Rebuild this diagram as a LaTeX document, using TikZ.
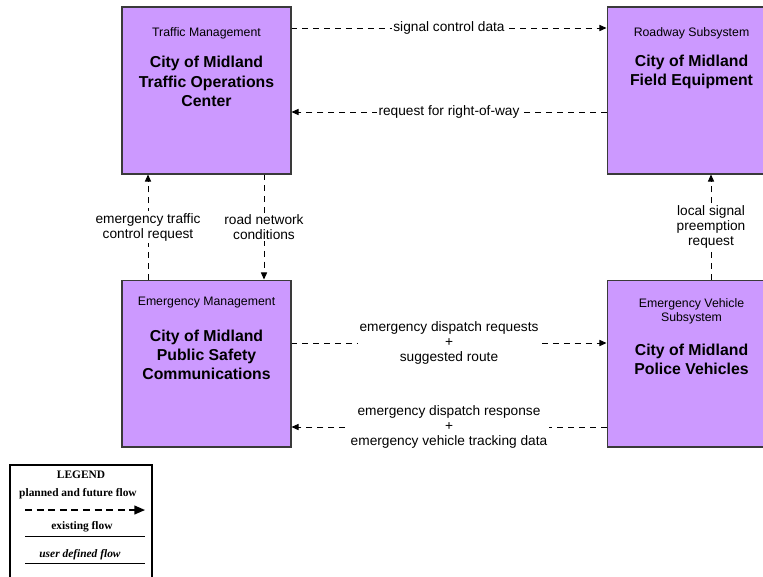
\documentclass[tikz,border=0pt]{standalone}
\usepackage{fontspec}
\setmainfont{Liberation Sans}
\newfontfamily\legendfont{Liberation Serif}
\usetikzlibrary{arrows.meta,positioning}
\definecolor{boxfill}{HTML}{CC99FF}
\definecolor{boxline}{HTML}{3A3A3A}
\tikzset{
  sysbox/.style={draw=boxline, fill=boxfill, line width=0.6pt, minimum width=3.38cm, minimum height=3.34cm, inner sep=0pt},
  cattext/.style={font=\fontsize{7}{8.2}\selectfont, align=center, inner sep=0pt},
  titletext/.style={font=\fontsize{9}{11}\selectfont\bfseries, align=center, inner sep=0pt},
  flow/.style={dash pattern=on 3.4pt off 2.8pt, line width=0.5pt, -{Triangle[length=4pt,width=3.5pt]}},
  flowlabel/.style={font=\fontsize{7.8}{8.5}\selectfont, align=center, fill=white, inner sep=1pt},
  legendtext/.style={font=\legendfont\bfseries\fontsize{6.5}{7}\selectfont, inner sep=0pt},
}

\begin{document}
\begin{tikzpicture}[x=0.02cm, y=-0.02cm]
    \useasboundingbox (0,0) rectangle (763,576);

    % subsystems
    \node[sysbox] (tmc) at (206.5,90.5) {};
    \node[sysbox] (rfe) at (691.5,90.5) {};
    \node[sysbox] (psc) at (206.5,363.5) {};
    \node[sysbox] (pve) at (691.5,363.5) {};

    \node[cattext] (tmccat) at (206.5,33) {Traffic Management};
    \node[titletext] (tmcname) at (206.5,81.5) {City of Midland\\Traffic Operations\\Center};
    \node[cattext] (rfecat) at (691.5,33) {Roadway Subsystem};
    \node[titletext] (rfename) at (691.5,72) {City of Midland\\Field Equipment};
    \node[cattext] (psccat) at (206.5,303) {Emergency Management};
    \node[titletext] (pscname) at (206.5,355) {City of Midland\\Public Safety\\Communications};
    \node[cattext] (pvecat) at (691.5,311.5) {Emergency Vehicle\\Subsystem};
    \node[titletext] (pvename) at (691.5,359) {City of Midland\\Police Vehicles};

    % flows
    \draw[flow] (tmc.east |- 0,28) -- (rfe.west |- 0,28)
        node[flowlabel, midway] (lblscd) {signal control data};
    \draw[flow] (rfe.west |- 0,112) -- (tmc.east |- 0,112)
        node[flowlabel, midway] (lblrow) {request for right-of-way};
    \draw[flow] (psc.north -| 148,0) -- (tmc.south -| 148,0)
        node[flowlabel, midway] (lbletc) {emergency traffic\\control request};
    \draw[flow] (tmc.south -| 264,0) -- (psc.north -| 264,0)
        node[flowlabel, midway] (lblrnc) {road network\\conditions};
    \draw[flow] (pve.north -| 711,0) -- (rfe.south -| 711,0)
        node[flowlabel, midway] (lbllsp) {local signal\\preemption\\request};
    \draw[flow] (psc.east |- 0,343) -- (pve.west |- 0,343)
        node[flowlabel, midway] (lbledr) {emergency dispatch requests\\+\\suggested route};
    \draw[flow] (pve.west |- 0,427) -- (psc.east |- 0,427)
        node[flowlabel, midway] (lblvtd) {emergency dispatch response\\+\\emergency vehicle tracking data};

    % legend
    \draw[line width=0.6pt] (10,465) rectangle (152,579);
    \node[legendtext] (legtitle) at (81,475) {LEGEND};
    \node[legendtext] (legplanned) at (78,494) {planned and future flow};
    \coordinate (plA) at (25,510);
    \coordinate (plB) at (145,510);
    \draw[dash pattern=on 4pt off 2.6pt, line width=0.8pt, -{Triangle[length=6pt,width=5pt]}] (plA) -- (plB);
    \node[legendtext] (legexist) at (82,527) {existing flow};
    \coordinate (exA) at (25,536);
    \coordinate (exB) at (145,536);
    \draw[line width=0.5pt] (exA) -- (exB);
    \node[legendtext, font=\legendfont\bfseries\itshape\fontsize{6.5}{7}\selectfont] (leguser) at (80,555) {user defined flow};
    \coordinate (usA) at (25,563);
    \coordinate (usB) at (145,563);
    \draw[line width=0.5pt] (usA) -- (usB);
\end{tikzpicture}
\end{document}
